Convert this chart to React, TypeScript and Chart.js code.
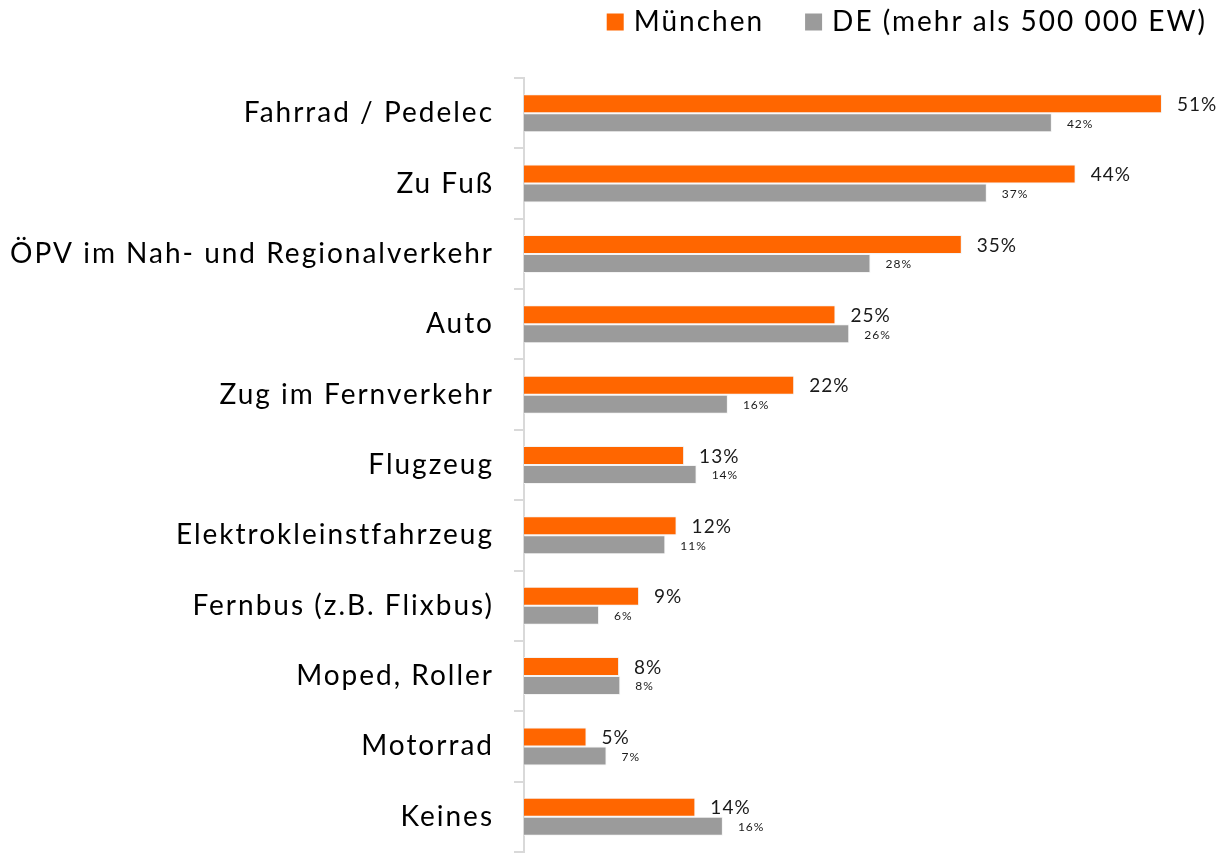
import React, { useEffect, useRef } from 'react';
import { Chart, registerables } from 'chart.js';

Chart.register(...registerables);

const categories = [
  'Fahrrad / Pedelec',
  'Zu Fuß',
  'ÖPV im Nah- und Regionalverkehr',
  'Auto',
  'Zug im Fernverkehr',
  'Flugzeug',
  'Elektrokleinstfahrzeug',
  'Fernbus (z.B. Flixbus)',
  'Moped, Roller',
  'Motorrad',
  'Keines',
];
const seriesNames = ['München', 'DE (mehr als 500 000 EW)'];
const muenchenValues = [51.0, 44.1, 35.0, 24.9, 21.6, 12.8, 12.2, 9.2, 7.6, 5.0, 13.7];
const deValues = [42.2, 37.0, 27.7, 26.0, 16.3, 13.8, 11.3, 6.0, 7.7, 6.6, 15.9];
const xMax = 55;

const FONT = 'Lato';

const spacingPlugin = {
  id: 'spacing',
  beforeLayout(chart: any) {
    chart.ctx.letterSpacing = '2px';
  },
  beforeDraw(chart: any) {
    chart.ctx.letterSpacing = '2px';
  },
};

// Legend drawn from the datasets (labels + colours), right-aligned at the top.
const topLegendPlugin = {
  id: 'topLegend',
  afterDraw(chart: any) {
    const ctx = chart.ctx;
    ctx.save();
    ctx.font = `28px ${FONT}`;
    ctx.letterSpacing = '2px';
    ctx.textAlign = 'left';
    ctx.textBaseline = 'middle';
    const box = 17;
    const gapBoxText = 10;
    const gapItems = 41;
    const rightEdge = 1207;
    const cy = 21;
    const items = chart.data.datasets.map((ds: any) => ({
      text: ds.label,
      color: ds.backgroundColor,
      w: ctx.measureText(ds.label).width,
    }));
    let total = 0;
    items.forEach((it: any, i: number) => {
      total += box + gapBoxText + it.w + (i > 0 ? gapItems : 0);
    });
    let x = rightEdge - total;
    items.forEach((it: any) => {
      ctx.fillStyle = it.color;
      ctx.fillRect(x, cy - box / 2 + 1, box, box);
      ctx.fillStyle = '#000';
      ctx.fillText(it.text, x + box + gapBoxText, cy + 1);
      x += box + gapBoxText + it.w + gapItems;
    });
    ctx.restore();
  },
};

const valueLabelPlugin = {
  id: 'valueLabels',
  afterDatasetsDraw(chart: any) {
    const ctx = chart.ctx;
    ctx.save();
    chart.data.datasets.forEach((ds: any, i: number) => {
      const meta = chart.getDatasetMeta(i);
      ctx.font = i === 0 ? `19px ${FONT}` : `12px ${FONT}`;
      ctx.letterSpacing = '1px';
      ctx.fillStyle = '#1a1a1a';
      ctx.textAlign = 'left';
      ctx.textBaseline = 'middle';
      meta.data.forEach((bar: any, j: number) => {
        ctx.fillText(Math.round(ds.data[j]) + '%', bar.x + 15, bar.y + 1);
      });
    });
    ctx.restore();
  },
};

export default function App() {
  const ref = useRef<HTMLCanvasElement | null>(null);

  useEffect(() => {
    if (!ref.current) return;
    const chart = new Chart(ref.current, {
      type: 'bar',
      data: {
        labels: categories,
        datasets: [
          {
            label: seriesNames[0],
            data: muenchenValues,
            backgroundColor: '#ff6600',
            borderColor: '#f4f4f4',
            borderWidth: 1,
            categoryPercentage: 0.54,
            barPercentage: 1,
          },
          {
            label: seriesNames[1],
            data: deValues,
            backgroundColor: '#9b9b9b',
            borderColor: '#f4f4f4',
            borderWidth: 1,
            categoryPercentage: 0.54,
            barPercentage: 1,
          },
        ],
      },
      options: {
        indexAxis: 'y',
        responsive: true,
        maintainAspectRatio: false,
        animation: false,
        layout: { padding: { left: 0, right: 8, top: 78, bottom: 2 } },
        scales: {
          x: { display: false, min: 0, max: xMax },
          y: {
            afterFit: (s: any) => {
              s.width = 524;
              s.paddingTop = 0;
              s.paddingBottom = 0;
            },
            grid: {
              display: true,
              drawOnChartArea: false,
              drawTicks: true,
              tickLength: 10,
              color: '#d9d9d9',
              lineWidth: 2,
              offset: true,
            },
            border: { display: true, color: '#d9d9d9', width: 2 },
            ticks: { font: { family: FONT, size: 28 }, color: '#000', padding: 20 },
          },
        },
        plugins: {
          legend: { display: false },
          tooltip: { enabled: false },
        },
      },
      plugins: [spacingPlugin, valueLabelPlugin, topLegendPlugin],
    } as any);
    return () => chart.destroy();
  }, []);

  return (
    <div style={{ position: 'fixed', left: 0, top: 0, width: 1220, height: 854, background: '#fff' }}>
      <canvas ref={ref} />
    </div>
  );
}
